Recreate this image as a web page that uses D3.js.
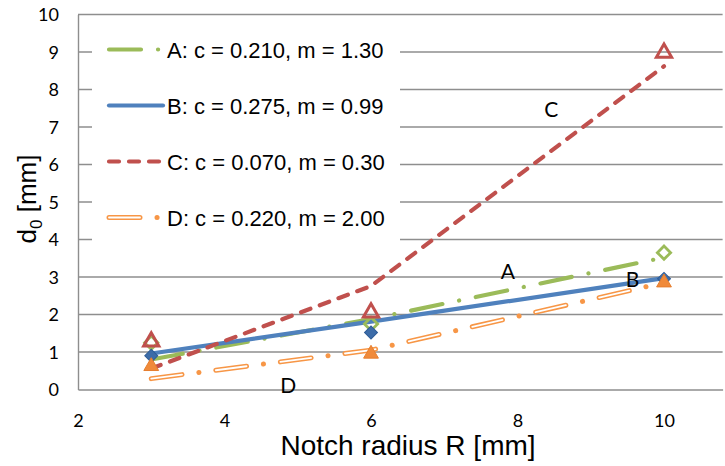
<!DOCTYPE html>
<html><head><meta charset="utf-8">
<script src="https://cdn.jsdelivr.net/npm/d3@7/dist/d3.min.js"></script>
<style>body{margin:0;background:#fff;}svg{display:block;}</style>
</head><body>
<svg id="c" width="725" height="466"></svg>
<script>
// ---- data ----
const seriesNames = ["A", "B", "C", "D"];
const legendLabels = ["A: c = 0.210, m = 1.30", "B: c = 0.275, m = 0.99", "C: c = 0.070, m = 0.30", "D: c = 0.220, m = 2.00"];
const fitR = [3, 6, 10];
const fitA = [0.80, 1.88, 3.52];
const fitB = [0.96, 1.81, 2.97];
const fitC = [0.56, 2.76, 8.62];
const fitD = [0.29, 1.05, 2.85];
const measR = [3, 6, 10];
const measA = [1.25, 1.75, 3.65];
const measB = [0.90, 1.52, 2.95];
const measC = [1.28, 2.05, 8.98];
const measD = [0.62, 0.95, 2.85];
const xTicks = [2, 4, 6, 8, 10];
const yTicks = [0, 1, 2, 3, 4, 5, 6, 7, 8, 9, 10];
const xDomain = [2, 10.8];
const yDomain = [0, 10];
const curveLabels = [
  {t: "A", r: 7.87, v: 3.15},
  {t: "B", r: 9.57, v: 2.94},
  {t: "C", r: 8.46, v: 7.47},
  {t: "D", r: 4.87, v: 0.10}
];

// ---- layout ----
const svg = d3.select("#c");
const x = d3.scaleLinear().domain(xDomain).range([78, 722.6]);
const y = d3.scaleLinear().domain(yDomain).range([389.5, 14.5]);
const gridColor = "#8e8e8e";

// grid
svg.append("g").selectAll("line").data(yTicks.filter(d => d > 0)).join("line")
  .attr("x1", x(xDomain[0])).attr("x2", x(xDomain[1]))
  .attr("y1", d => y(d)).attr("y2", d => y(d))
  .attr("stroke", gridColor).attr("stroke-width", 1.4);

// axes
const xAxis = d3.axisBottom(x).tickValues(xTicks).tickSize(0).tickPadding(0).tickFormat(d3.format("d"));
const gx = svg.append("g").attr("transform", `translate(0,${y(0)})`).call(xAxis);
gx.select(".domain").attr("stroke", gridColor).attr("stroke-width", 1.4);
gx.selectAll("text").attr("dy", null).attr("y", 37)
  .attr("font-family", "Lato, sans-serif").attr("font-size", 18).attr("fill", "#000");

const yAxis = d3.axisLeft(y).tickValues(yTicks).tickSize(0).tickPadding(0);
const gy = svg.append("g").attr("transform", `translate(${x(xDomain[0])},0)`).call(yAxis);
gy.select(".domain").attr("stroke", gridColor).attr("stroke-width", 1.4);
gy.selectAll("text").attr("x", -19).attr("dy", "0.35em")
  .attr("font-family", "Lato, sans-serif").attr("font-size", 18).attr("fill", "#000");

// axis titles
svg.append("text").attr("x", 408).attr("y", 455).attr("text-anchor", "middle")
  .attr("font-family", "'Liberation Sans', Arial, sans-serif").attr("font-size", 28).text("Notch radius R [mm]");
const yt = svg.append("text").attr("transform", "translate(36,199) rotate(-90)").attr("text-anchor", "middle")
  .attr("font-family", "'Liberation Sans', Arial, sans-serif").attr("font-size", 26);
yt.append("tspan").text("d");
yt.append("tspan").attr("font-size", 17).attr("dy", 6).text("0");
yt.append("tspan").attr("dy", -6).text(" [mm]");

// series styles
const colors = {A: "#9BBB59", B: "#4F81BD", C: "#C0504D", D: "#F79646"};
const fits = {A: fitA, B: fitB, C: fitC, D: fitD};
const meas = {A: measA, B: measB, C: measC, D: measD};
const line = d3.line().x(d => x(d[0])).y(d => y(d[1]));

function drawStroke(g, pathFn, s) {
  if (s === "A") {
    g.append("path").attr("d", pathFn).attr("fill", "none").attr("stroke", colors.A)
      .attr("stroke-width", 4.2).attr("stroke-linecap", "round").attr("stroke-dasharray", "32 17 0.1 17");
  } else if (s === "B") {
    g.append("path").attr("d", pathFn).attr("fill", "none").attr("stroke", colors.B)
      .attr("stroke-width", 4.2).attr("stroke-linecap", "round");
  } else if (s === "C") {
    g.append("path").attr("d", pathFn).attr("fill", "none").attr("stroke", colors.C)
      .attr("stroke-width", 4.2).attr("stroke-linecap", "round").attr("stroke-dasharray", "10 10");
  } else {
    g.append("path").attr("d", pathFn).attr("fill", "none").attr("stroke", colors.D)
      .attr("stroke-width", 5).attr("stroke-linecap", "round").attr("stroke-dasharray", "31 17 0.1 17");
    g.append("path").attr("d", pathFn).attr("fill", "none").attr("stroke", "#fff")
      .attr("stroke-width", 1.8).attr("stroke-linecap", "round").attr("stroke-dasharray", "31 34.1");
  }
}

// lines
const gl = svg.append("g");
seriesNames.forEach(s => {
  const pts = fitR.map((r, i) => [r, fits[s][i]]);
  drawStroke(gl, line(pts), s);
});

// markers
const gm = svg.append("g");
seriesNames.forEach(s => {
  const pts = measR.map((r, i) => [r, meas[s][i]]);
  const sel = gm.append("g").selectAll("path").data(pts).join("path");
  if (s === "A") {
    sel.attr("d", d3.symbol(d3.symbolSquare, 88)()).attr("transform", d => `translate(${x(d[0])},${y(d[1])}) rotate(45)`)
      .attr("fill", "none").attr("stroke", colors.A).attr("stroke-width", 2.8);
  } else if (s === "B") {
    sel.attr("d", d3.symbol(d3.symbolSquare, 84)()).attr("transform", d => `translate(${x(d[0])},${y(d[1])}) rotate(45)`)
      .attr("fill", "#3D6CA8").attr("stroke", "#2F5C96").attr("stroke-width", 1);
  } else if (s === "C") {
    sel.attr("d", d3.symbol(d3.symbolTriangle, 100)()).attr("transform", d => `translate(${x(d[0])},${y(d[1])})`)
      .attr("fill", "none").attr("stroke", colors.C).attr("stroke-width", 3);
  } else {
    sel.attr("d", d3.symbol(d3.symbolTriangle, 95)()).attr("transform", d => `translate(${x(d[0])},${y(d[1])})`)
      .attr("fill", "#F08A3A").attr("stroke", "#E67E2E").attr("stroke-width", 1);
  }
});

// curve labels
svg.append("g").selectAll("text").data(curveLabels).join("text")
  .attr("x", d => x(d.r)).attr("y", d => y(d.v)).attr("dy", "0.36em").attr("text-anchor", "middle")
  .attr("font-family", "Lato, sans-serif").attr("font-size", 21).text(d => d.t);

// legend
const lg = svg.append("g");
lg.append("rect").attr("x", 92).attr("y", 22).attr("width", 308).attr("height", 223).attr("fill", "#fff");
seriesNames.forEach((s, i) => {
  const cy = 49.5 + i * 56;
  drawStroke(lg, `M109,${cy}L163,${cy}`, s);
  lg.append("text").attr("x", 167).attr("y", cy + 8.5)
    .attr("font-family", "'Liberation Sans', Arial, sans-serif").attr("font-size", 22).text(legendLabels[i]);
});
</script>
</body></html>
